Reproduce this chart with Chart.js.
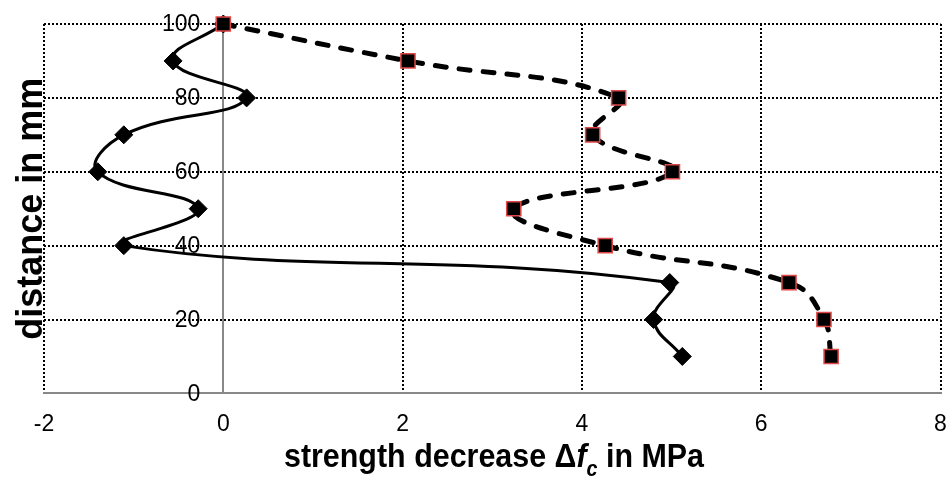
<!DOCTYPE html>
<html>
<head>
<meta charset="utf-8">
<script src="https://cdn.jsdelivr.net/npm/chart.js@4.4.0/dist/chart.umd.min.js"></script>
<style>
  html, body { margin: 0; padding: 0; background: #fff; }
  #wrap { width: 952px; height: 482px; }
</style>
</head>
<body>
<div id="wrap"><canvas id="profileChart" width="952" height="482"></canvas></div>
<script>
// distance from surface in mm (y) and strength decrease in MPa (x)
const distance = [100, 90, 80, 70, 60, 50, 40, 30, 20, 10];
const decreaseSolid = [0, -0.56, 0.26, -1.11, -1.40, -0.28, -1.11, 4.98, 4.80, 5.12];
const decreaseDashed = [0, 2.06, 4.41, 4.12, 5.01, 3.24, 4.26, 6.31, 6.70, 6.78];
const xTicks = [-2, 0, 2, 4, 6, 8];
const yTicks = [0, 20, 40, 60, 80, 100];

const FONT = "'Liberation Sans', Arial, sans-serif";

function toPoints(xs) {
  return xs.map(function (x, i) {
    return { x: x, y: distance[i] };
  });
}

// hide the grid line at 0, the grey axis line is drawn there instead
function gridColor(ctx) {
  return ctx.tick && ctx.tick.value === 0 ? "rgba(0,0,0,0)" : "#000";
}

// y tick labels sit left of the x=0 axis line (Chart.js ignores padding there)
const yLabels = {
  id: "yLabels",
  afterDraw(chart) {
    const ctx = chart.ctx;
    const yScale = chart.scales.y;
    const x0 = chart.scales.x.getPixelForValue(0);
    ctx.save();
    ctx.fillStyle = "#000";
    ctx.font = "23px " + FONT;
    ctx.textAlign = "right";
    ctx.textBaseline = "middle";
    yScale.ticks.forEach(function (t) {
      ctx.fillText(String(t.value), x0 - 23, yScale.getPixelForValue(t.value) + 1);
    });
    ctx.restore();
  },
};

// axis titles (x title needs italic f with subscript c)
const axisTitles = {
  id: "axisTitles",
  afterDraw(chart) {
    const ctx = chart.ctx;
    const area = chart.chartArea;

    ctx.save();
    ctx.fillStyle = "#000";
    ctx.font = "bold 36px " + FONT;
    ctx.textAlign = "center";
    ctx.textBaseline = "alphabetic";
    ctx.translate(42, (area.top + area.bottom) / 2);
    ctx.rotate(-Math.PI / 2);
    ctx.fillText("distance in mm", 0, 0);
    ctx.restore();

    const parts = [
      { text: "strength decrease \u0394", font: "bold 34px " + FONT, dy: 0 },
      { text: "f", font: "italic bold 34px " + FONT, dy: 0 },
      { text: "c", font: "italic bold 22px " + FONT, dy: 9 },
      { text: " in MPa", font: "bold 34px " + FONT, dy: 0 },
    ];
    ctx.save();
    ctx.fillStyle = "#000";
    ctx.textAlign = "left";
    ctx.textBaseline = "alphabetic";
    let total = 0;
    parts.forEach(function (p) {
      ctx.font = p.font;
      p.w = ctx.measureText(p.text).width;
      total += p.w;
    });
    ctx.translate(494, 467);
    ctx.scale(0.895, 1);
    let x = -total / 2;
    parts.forEach(function (p) {
      ctx.font = p.font;
      ctx.fillText(p.text, x, p.dy);
      x += p.w;
    });
    ctx.restore();
  },
};

const ctx = document.getElementById("profileChart").getContext("2d");

new Chart(ctx, {
  type: "scatter",
  data: {
    datasets: [
      {
        label: "dashed",
        data: toPoints(decreaseDashed),
        showLine: true,
        borderColor: "#000",
        borderWidth: 5,
        borderDash: [11, 13],
        borderCapStyle: "round",
        tension: 0.45,
        pointStyle: "rect",
        pointRadius: 10,
        pointBackgroundColor: "#000",
        pointBorderColor: "#e04848",
        pointBorderWidth: 1.5,
        clip: false,
      },
      {
        label: "solid",
        data: toPoints(decreaseSolid),
        showLine: true,
        borderColor: "#000",
        borderWidth: 3,
        tension: 0.45,
        pointStyle: "rectRot",
        pointRadius: 9,
        pointBackgroundColor: "#000",
        pointBorderColor: "#000",
        pointBorderWidth: 1,
        clip: false,
      },
    ],
  },
  options: {
    responsive: false,
    animation: false,
    events: [],
    layout: {
      padding: { left: 44, right: 0, top: 24, bottom: 27 },
    },
    plugins: {
      legend: { display: false },
      tooltip: { enabled: false },
    },
    scales: {
      x: {
        type: "linear",
        min: xTicks[0],
        max: xTicks[xTicks.length - 1],
        afterFit: function (scale) {
          scale.paddingLeft = 0;
          scale.paddingRight = 0;
        },
        ticks: {
          stepSize: 2,
          padding: 17,
          color: "#000",
          font: { family: FONT, size: 23 },
        },
        grid: {
          color: gridColor,
          lineWidth: 2,
          drawTicks: false,
        },
        border: { display: true, color: "#888", width: 2, dash: [2, 2] },
      },
      y: {
        type: "linear",
        position: { x: 0 },
        min: yTicks[0],
        max: yTicks[yTicks.length - 1],
        afterFit: function (scale) {
          scale.paddingTop = 0;
          scale.paddingBottom = 0;
        },
        ticks: {
          stepSize: 20,
          display: false,
        },
        grid: {
          color: gridColor,
          lineWidth: 2,
          drawTicks: false,
        },
        border: { display: true, color: "#888", width: 2, dash: [2, 2] },
      },
    },
  },
  plugins: [yLabels, axisTitles],
});
</script>
</body>
</html>
